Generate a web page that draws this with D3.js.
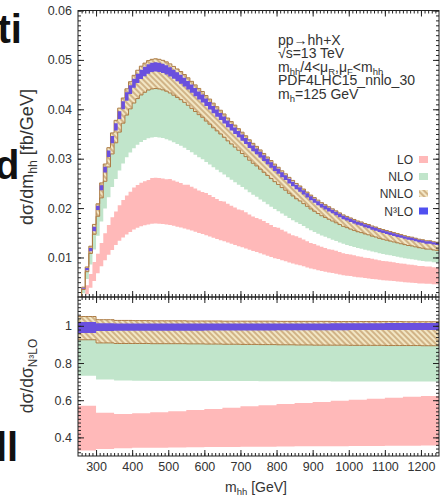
<!DOCTYPE html>
<html>
<head>
<meta charset="utf-8">
<script src="https://cdn.jsdelivr.net/npm/d3@7"></script>
<style>
body { margin: 0; background: #fff; }
svg { display: block; font-family: "Liberation Sans", Arial, sans-serif; }
</style>
</head>
<body>
<svg id="chart" width="441" height="498"></svg>
<script>
// 10 GeV bins of m_hh, N3LO central value in fb/GeV
let massBins = d3.range(250, 1250, 10)
let n3loCentral = [
    0.0010, 0.0038, 0.0077, 0.0117, 0.0159, 0.0202, 0.0243, 0.0280, 0.0312, 0.0341,
    0.0367, 0.0391, 0.0411, 0.0429, 0.0443, 0.0456, 0.0466, 0.0474, 0.0480, 0.0485,
    0.0488, 0.0489, 0.0488, 0.0486, 0.0483, 0.0479, 0.0474, 0.0469, 0.0464, 0.0458,
    0.0452, 0.0445, 0.0438, 0.0431, 0.0425, 0.0417, 0.0410, 0.0402, 0.0395, 0.0388,
    0.0381, 0.0373, 0.0366, 0.0359, 0.0352, 0.0345, 0.0338, 0.0330, 0.0323, 0.0317,
    0.0310, 0.0303, 0.0296, 0.0289, 0.0282, 0.0276, 0.0269, 0.0263, 0.0256, 0.0250,
    0.0244, 0.0239, 0.0233, 0.0227, 0.0221, 0.0216, 0.0211, 0.0206, 0.0202, 0.0198,
    0.0194, 0.0190, 0.0186, 0.0182, 0.0179, 0.0176, 0.0173, 0.0170, 0.0168, 0.0165,
    0.0163, 0.0160, 0.0158, 0.0155, 0.0153, 0.0151, 0.0149, 0.0147, 0.0145, 0.0143,
    0.0141, 0.0139, 0.0138, 0.0136, 0.0134, 0.0133, 0.0131, 0.0131, 0.0129, 0.0128
]

// scale bands, relative to N3LO central, in 50 GeV blocks (250, 300, ... 1200)
let ratioBlocks = d3.range(250, 1250, 50)
let loLo   = [0.330, 0.338, 0.342, 0.344, 0.345, 0.346, 0.347, 0.348, 0.349, 0.350, 0.350, 0.351, 0.352, 0.352, 0.353, 0.354, 0.354, 0.355, 0.355, 0.356]
let loHi   = [0.570, 0.532, 0.526, 0.530, 0.535, 0.540, 0.547, 0.553, 0.560, 0.567, 0.573, 0.580, 0.585, 0.590, 0.597, 0.603, 0.608, 0.613, 0.618, 0.623]
let nloLo  = [0.732, 0.712, 0.706, 0.704, 0.703, 0.703, 0.703, 0.703, 0.703, 0.703, 0.702, 0.702, 0.702, 0.702, 0.701, 0.701, 0.701, 0.700, 0.700, 0.700]
let nloHi  = [0.935, 0.920, 0.915, 0.915, 0.914, 0.914, 0.913, 0.912, 0.911, 0.910, 0.909, 0.908, 0.907, 0.906, 0.906, 0.905, 0.905, 0.904, 0.904, 0.903]
let nnloLo = [0.925, 0.908, 0.905, 0.905, 0.904, 0.904, 0.903, 0.902, 0.901, 0.900, 0.899, 0.898, 0.897, 0.896, 0.896, 0.895, 0.895, 0.894, 0.894, 0.893]
let nnloHi = [1.050, 1.033, 1.029, 1.028, 1.027, 1.027, 1.026, 1.026, 1.025, 1.025, 1.025, 1.024, 1.024, 1.024, 1.023, 1.023, 1.023, 1.023, 1.022, 1.022]
let n3loLo = [0.962, 0.972, 0.973, 0.973, 0.974, 0.974, 0.974, 0.975, 0.975, 0.975, 0.975, 0.976, 0.976, 0.976, 0.976, 0.977, 0.977, 0.977, 0.977, 0.977]
let n3loHi = [1.020, 1.014, 1.013, 1.013, 1.013, 1.013, 1.012, 1.012, 1.012, 1.012, 1.013, 1.013, 1.013, 1.013, 1.014, 1.014, 1.014, 1.015, 1.015, 1.015]

let orders = ["LO", "NLO", "NNLO", "N³LO"]
let topTicks = [0.01, 0.02, 0.03, 0.04, 0.05, 0.06]
let ratioTicks = [0.4, 0.6, 0.8, 1]
let massTicks = [300, 400, 500, 600, 700, 800, 900, 1000, 1100, 1200]

let loFill = "#ffb9b9"
let nloFill = "#c1e5cb"
let nnloLine = "#ad7c45"
let n3loFill = "#6a50de"

let svg = d3.select("#chart")
let L = 78, R = 439, T = 10.5, MID = 297, B = 456

let x = d3.scaleLinear().domain([250, 1250]).range([L, R])
let yTop = d3.scaleLinear().domain([0.002, 0.06]).range([MID, T])
let yRat = d3.scaleLinear().domain([0.3, 1.155]).range([B, MID])

let defs = svg.append("defs")
defs.append("clipPath").attr("id", "clipTop").append("rect")
    .attr("x", L).attr("y", T).attr("width", R - L).attr("height", MID - T)
defs.append("clipPath").attr("id", "clipRat").append("rect")
    .attr("x", L).attr("y", MID).attr("width", R - L).attr("height", B - MID)
let pat = defs.append("pattern").attr("id", "hatch")
    .attr("patternUnits", "userSpaceOnUse")
    .attr("width", 4).attr("height", 4)
    .attr("patternTransform", "rotate(-45)")
pat.append("rect").attr("width", 4).attr("height", 4).attr("fill", "#f2e6c4")
pat.append("line").attr("x1", 1).attr("y1", 0).attr("x2", 1).attr("y2", 4)
    .attr("stroke", "#b68a55").attr("stroke-width", 1.1)

function bandPoints(lo, hi, withCentral) {
    let pts = massBins.map((m, i) => {
        let b = Math.floor((m - ratioBlocks[0]) / 50)
        let c = withCentral ? n3loCentral[i] : 1
        return {m: m, lo: lo[b] * c, hi: hi[b] * c}
    })
    let last = pts[pts.length - 1]
    pts.push({m: 1250, lo: last.lo, hi: last.hi})
    return pts
}

function drawBands(clipId, yScale, withCentral) {
    let g = svg.append("g").attr("clip-path", "url(#" + clipId + ")")
    let area = d3.area().curve(d3.curveStepAfter)
        .x(d => x(d.m)).y0(d => yScale(d.lo)).y1(d => yScale(d.hi))
    let lineLo = d3.line().curve(d3.curveStepAfter).x(d => x(d.m)).y(d => yScale(d.lo))
    let lineHi = d3.line().curve(d3.curveStepAfter).x(d => x(d.m)).y(d => yScale(d.hi))

    g.append("path").datum(bandPoints(loLo, loHi, withCentral)).attr("d", area).attr("fill", loFill)
    g.append("path").datum(bandPoints(nloLo, nloHi, withCentral)).attr("d", area).attr("fill", nloFill)
    let nnlo = bandPoints(nnloLo, nnloHi, withCentral)
    g.append("path").datum(nnlo).attr("d", area).attr("fill", "url(#hatch)")
    g.append("path").datum(nnlo).attr("d", lineLo).attr("fill", "none").attr("stroke", nnloLine).attr("stroke-width", 1)
    g.append("path").datum(nnlo).attr("d", lineHi).attr("fill", "none").attr("stroke", nnloLine).attr("stroke-width", 1)
    g.append("path").datum(bandPoints(n3loLo, n3loHi, withCentral)).attr("d", area).attr("fill", n3loFill)
}

drawBands("clipTop", yTop, true)
drawBands("clipRat", yRat, false)

// frames
svg.append("rect").attr("x", L).attr("y", T).attr("width", R - L).attr("height", MID - T)
    .attr("fill", "none").attr("stroke", "#222").attr("stroke-width", 1)
svg.append("rect").attr("x", L).attr("y", MID).attr("width", R - L).attr("height", B - MID)
    .attr("fill", "none").attr("stroke", "#222").attr("stroke-width", 1)

function putAxis(tx, ty, axis, withLabels) {
    let g = svg.append("g").attr("transform", `translate(${tx},${ty})`).call(axis)
    g.attr("font-size", null).attr("font-family", null).style("color", "#222")
    g.select(".domain").remove()
    if (withLabels) {
        g.selectAll("text").attr("fill", "#333").style("font-size", "12.5px")
    } else {
        g.selectAll("text").remove()
    }
    return g
}

// top panel axes
let topMinor = d3.range(3, 61).map(v => v / 1000)
putAxis(L, 0, d3.axisLeft(yTop).tickValues(topTicks).tickSize(-6).tickPadding(6).tickFormat(d3.format(".2f")), true)
putAxis(L, 0, d3.axisLeft(yTop).tickValues(topMinor).tickSize(-3), false)
putAxis(R, 0, d3.axisRight(yTop).tickValues(topTicks).tickSize(-6), false)
putAxis(R, 0, d3.axisRight(yTop).tickValues(topMinor).tickSize(-3), false)

let massMinor = d3.range(26, 125).map(v => v * 10)
putAxis(0, T, d3.axisTop(x).tickValues(massTicks).tickSize(-6), false)
putAxis(0, T, d3.axisTop(x).tickValues(massMinor).tickSize(-3), false)
putAxis(0, MID, d3.axisBottom(x).tickValues(massTicks).tickSize(-6), false)
putAxis(0, MID, d3.axisBottom(x).tickValues(massMinor).tickSize(-3), false)
putAxis(0, MID, d3.axisTop(x).tickValues(massTicks).tickSize(-6), false)
putAxis(0, MID, d3.axisTop(x).tickValues(massMinor).tickSize(-3), false)
putAxis(0, B, d3.axisBottom(x).tickValues(massTicks).tickSize(-6).tickPadding(6).tickFormat(d3.format("d")), true)
putAxis(0, B, d3.axisBottom(x).tickValues(massMinor).tickSize(-3), false)

// ratio panel axes
let ratMinor = d3.range(16, 58).map(v => v / 50)
putAxis(L, 0, d3.axisLeft(yRat).tickValues(ratioTicks).tickSize(-6).tickPadding(6).tickFormat(d3.format("~g")), true)
putAxis(L, 0, d3.axisLeft(yRat).tickValues(ratMinor).tickSize(-3), false)
putAxis(R, 0, d3.axisRight(yRat).tickValues(ratioTicks).tickSize(-6), false)
putAxis(R, 0, d3.axisRight(yRat).tickValues(ratMinor).tickSize(-3), false)

// text with sub/superscripts
function richText(g, parts, size) {
    let t = g.append("text").attr("font-size", size).attr("fill", "#333")
    let cur = 0
    parts.forEach(p => {
        let shift = p[1] == "sub" ? size * 0.22 : (p[1] == "sup" ? -size * 0.4 : 0)
        let s = t.append("tspan").text(p[0]).attr("dy", shift - cur)
        if (p[1]) s.attr("font-size", size * 0.68)
        cur = shift
    })
    return t
}

function textAt(px, py, parts, size) {
    let g = svg.append("g").attr("transform", `translate(${px},${py})`)
    return richText(g, parts, size)
}

// process annotation
let infoX = 278
textAt(infoX, 45, [["pp→hh+X"]], 14)
textAt(infoX, 58, [["√s=13 TeV"]], 14)
textAt(infoX, 71.5, [["m"], ["hh", "sub"], ["/4<μ"], ["R", "sub"], [",μ"], ["F", "sub"], ["<m"], ["hh", "sub"]], 14)
textAt(infoX, 85, [["PDF4LHC15_nnlo_30"]], 14)
textAt(infoX, 98.5, [["m"], ["h", "sub"], ["=125 GeV"]], 14)

// legend
let legY = [164, 181, 198, 215.5]
let legFill = [loFill, nloFill, "url(#hatch)", "#5050f0"]
orders.forEach((o, i) => {
    svg.append("text").attr("x", 413).attr("y", legY[i]).attr("text-anchor", "end")
        .attr("font-size", 12).attr("fill", "#333").text(o)
    svg.append("rect").attr("x", 419).attr("y", legY[i] - 8).attr("width", 9).attr("height", 7)
        .attr("fill", legFill[i])
})

// axis titles
textAt(256, 492, [["m"], ["hh", "sub"], [" [GeV]"]], 14).attr("text-anchor", "middle")
let yt = svg.append("g").attr("transform", "translate(33,157) rotate(-90)")
richText(yt, [["dσ/dm"], ["hh", "sub"], [" [fb/GeV]"]], 18).attr("text-anchor", "middle")
let yb = svg.append("g").attr("transform", "translate(33,376) rotate(-90)")
richText(yb, [["dσ/dσ"], ["N³LO", "sub"]], 17.5).attr("text-anchor", "middle")

// clipped page text at the left edge
let bigText = [["ti", -2.5, 43], ["d", -5, 179], ["ll", -4, 461]]
bigText.forEach(b => {
    svg.append("text").attr("x", b[1]).attr("y", b[2]).attr("font-size", 40)
        .attr("font-weight", "bold").attr("fill", "#111").text(b[0])
})
</script>
</body>
</html>
